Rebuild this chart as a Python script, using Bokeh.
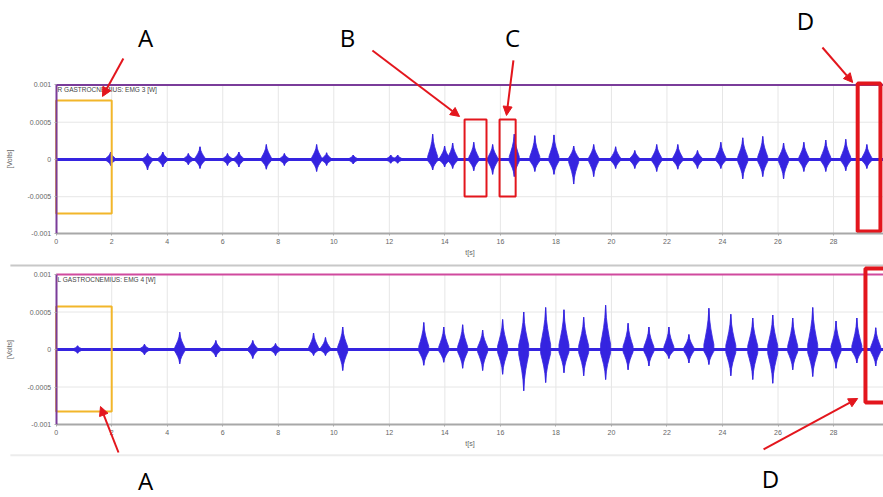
from bokeh.plotting import figure
from bokeh.models import (Range1d, FixedTicker, CustomJSTickFormatter, Label, Arrow,
                          NormalHead)
from bokeh.layouts import column
from bokeh.embed import file_html
from bokeh.resources import INLINE

# ---------------- data ----------------
x_ticks = [0, 2, 4, 6, 8, 10, 12, 14, 16, 18, 20, 22, 24, 26, 28]
y_ticks = [-0.001, -0.0005, 0, 0.0005, 0.001]
y_grid = [-0.0005, 0.0005]
t_end = 29.8

# R GASTROCNEMIUS burst centres [s], positive / negative peak amplitude [x1e-4 V]
t_right = [1.96, 3.29, 3.84, 4.76, 5.18, 6.17, 6.58, 7.57, 8.22, 9.38, 9.74, 10.7,
           12.05, 12.3, 13.56, 13.99, 14.28, 15.04, 15.72, 16.5, 17.24, 17.93, 18.64,
           19.36, 20.15, 20.84, 21.63, 22.39, 23.1, 23.94, 24.73, 25.45, 26.2, 26.93,
           27.72, 28.44, 29.2]
up_right = [1.0, 0.8, 1.0, 0.8, 1.7, 0.8, 1.0, 2.0, 0.8, 2.0, 0.9, 0.6, 0.6, 0.6, 3.4,
            1.8, 2.2, 2.3, 2.0, 3.4, 3.2, 3.3, 1.8, 2.0, 1.7, 1.2, 2.0, 2.0, 1.2, 2.3,
            2.9, 3.1, 2.2, 2.3, 2.6, 2.7, 2.0]
dn_right = [0.8, 1.4, 1.0, 0.7, 1.2, 0.8, 1.0, 1.3, 0.8, 1.6, 0.8, 0.6, 0.5, 0.5, 1.4,
            1.0, 1.2, 1.5, 2.0, 2.3, 1.6, 2.0, 3.3, 2.3, 1.2, 1.2, 1.6, 1.3, 1.2, 1.2,
            2.6, 2.3, 2.6, 1.6, 1.6, 1.5, 1.2]

# L GASTROCNEMIUS
t_left = [0.77, 3.18, 4.45, 5.75, 7.08, 7.9, 9.27, 9.7, 10.32, 13.24, 13.96, 14.64,
          15.36, 16.08, 16.84, 17.63, 18.29, 19.0, 19.79, 20.6, 21.35, 22.07, 22.79,
          23.51, 24.3, 25.09, 25.81, 26.53, 27.25, 28.09, 28.84, 29.52]
up_left = [0.5, 0.7, 2.3, 1.2, 1.2, 0.8, 2.2, 1.6, 3.0, 3.6, 3.0, 3.3, 2.6, 4.0, 5.0,
           5.6, 5.3, 4.3, 5.9, 3.5, 3.0, 3.0, 2.0, 5.5, 4.7, 4.2, 4.6, 4.2, 5.6, 3.8,
           4.2, 2.9]
dn_left = [0.5, 0.7, 1.9, 1.0, 1.2, 0.8, 0.8, 0.8, 2.8, 2.1, 1.7, 2.5, 2.8, 3.3, 5.5,
           4.4, 3.1, 3.5, 4.0, 2.7, 2.2, 1.2, 1.8, 2.0, 3.5, 4.0, 4.5, 2.7, 3.6, 2.5,
           1.8, 2.2]

# ---------------- styles ----------------
BLUE = "#3524e0"
RED = "#e3161d"
YELLOW = "#f2b62a"
PURPLE = "#7a3c9a"
PINK = "#d04a9e"
GREY_TXT = "#666666"
FONT = "Liberation Sans"

SHAPE_X = [-0.5, -0.35, -0.2, -0.08, 0.0, 0.08, 0.2, 0.35, 0.5]
SHAPE_Y = [0.12, 0.3, 0.5, 0.72, 1.0, 0.72, 0.5, 0.3, 0.12]
BURST_W = 0.36


def panel(height, x_rng, y_rng, title, title_y, top_color, t, up, dn):
    p = figure(width=883, height=height, x_range=Range1d(*x_rng),
               y_range=Range1d(*y_rng), output_backend="svg",
               toolbar_location=None, tools="")
    p.min_border = 0
    p.min_border_left = 0
    p.min_border_right = 0
    p.min_border_top = 0
    p.min_border_bottom = 0
    p.outline_line_color = None
    p.background_fill_color = "white"
    p.border_fill_color = "white"
    p.xgrid.visible = False
    p.ygrid.visible = False

    # grid drawn only inside the plotting area
    p.segment(x0=x_ticks[1:], y0=[y_ticks[0]] * (len(x_ticks) - 1), x1=x_ticks[1:],
              y1=[y_ticks[-1]] * (len(x_ticks) - 1), line_color="#e6e6e6", line_width=1)
    p.segment(x0=[0] * len(y_grid), y0=y_grid, x1=[t_end] * len(y_grid), y1=y_grid,
              line_color="#e6e6e6", line_width=1)

    p.xaxis.ticker = FixedTicker(ticks=x_ticks)
    p.yaxis.ticker = FixedTicker(ticks=y_ticks)
    p.yaxis.formatter = CustomJSTickFormatter(code="return String(tick);")
    p.xaxis.fixed_location = y_ticks[0]
    p.yaxis.fixed_location = 0
    p.xaxis.bounds = (0, t_end)
    p.yaxis.bounds = (y_ticks[0], y_ticks[-1])
    for ax in (p.xaxis, p.yaxis):
        ax.major_label_text_font_size = "7px"
        ax.major_label_text_color = GREY_TXT
        ax.major_label_text_font = FONT
        ax.axis_label_text_font_size = "7px"
        ax.axis_label_text_color = GREY_TXT
        ax.axis_label_text_font = FONT
        ax.axis_label_text_font_style = "normal"
        ax.minor_tick_line_color = None
        ax.major_tick_line_color = "#aaaaaa"
        ax.major_tick_out = 2
        ax.major_tick_in = 0
        ax.major_label_standoff = 3
        ax.axis_label_standoff = 2
    p.xaxis.axis_label = "t[s]"
    p.yaxis.axis_label = "[Volts]"
    p.yaxis.axis_line_color = PURPLE
    p.yaxis.axis_line_width = 2
    p.xaxis.axis_line_color = "#a8a8a8"
    p.xaxis.axis_line_width = 2
    p.yaxis.axis_label_standoff = 12

    p.segment(x0=[0], y0=[y_ticks[-1]], x1=[t_end], y1=[y_ticks[-1]],
              line_color=top_color, line_width=2)

    # baseline of the signal
    p.segment(x0=[0], y0=[0], x1=[t_end], y1=[0], line_color=BLUE, line_width=3)
    # bursts
    xs, ys = [], []
    for tc, u, d in zip(t, up, dn):
        bx = [tc + BURST_W * k for k in SHAPE_X]
        by = [u * 1e-4 * k for k in SHAPE_Y]
        bx2 = list(reversed(bx))
        by2 = [-d * 1e-4 * k for k in reversed(SHAPE_Y)]
        xs.append(bx + bx2)
        ys.append(by + by2)
    p.patches(xs=xs, ys=ys, fill_color=BLUE, line_color=BLUE, line_width=0.8)
    p.segment(x0=t, y0=[-d * 1e-4 for d in dn], x1=t, y1=[u * 1e-4 for u in up],
              line_color=BLUE, line_width=1.2)

    p.add_layout(Label(x=0.05, y=title_y, text=title, text_font_size="6.5px",
                       text_color="#444444", text_font=FONT, text_baseline="middle"))
    return p


def arrow(p, x0, y0, x1, y1, head=True, color=RED, width=2):
    p.add_layout(Arrow(end=NormalHead(size=9, fill_color=color, line_color=color) if head else None,
                       x_start=x0, y_start=y0, x_end=x1, y_end=y1,
                       line_color=color, line_width=width))


def letter(p, x, y, s):
    p.add_layout(Label(x=x, y=y, text=s, text_font_size="24px", text_font="Open Sans",
                       text_color="black", text_align="center", text_baseline="middle"))


top = panel(262, (-2.006, 29.8), (-0.001383, 0.002134), "R GASTROCNEMIUS: EMG 3 [W]",
            0.00094, PURPLE, t_right, up_right, dn_right)
bot = panel(235, (-2.006, 29.8), (-0.001973, 0.00116), "L GASTROCNEMIUS: EMG 4 [W]",
            0.000933, PINK, t_left, up_left, dn_left)

# ---- annotations, top panel ----
top.quad(left=[0], right=[2], bottom=[-0.000725], top=[0.000792], fill_color=None,
         line_color=YELLOW, line_width=2)
top.quad(left=[14.71, 15.97], right=[15.5, 16.55], bottom=[-0.000497, -0.000497],
         top=[0.000537, 0.000537], fill_color=None, line_color=RED, line_width=2)
top.quad(left=[28.87], right=[29.69], bottom=[-0.000966], top=[0.00102], fill_color=None,
         line_color=RED, line_width=4)
letter(top, 3.217, 0.001638, "A")
letter(top, 10.49, 0.001638, "B")
letter(top, 16.44, 0.001638, "C")
letter(top, 26.99, 0.001866, "D")
arrow(top, 2.42, 0.001356, 1.668, 0.000846)
arrow(top, 11.39, 0.001463, 14.53, 0.000577)
arrow(top, 16.47, 0.001329, 16.22, 0.000591)
arrow(top, 27.6, 0.001503, 28.69, 0.001034)

# ---- annotations, bottom panel ----
bot.segment(x0=[-1.65], y0=[0.00112], x1=[t_end], y1=[0.00112], line_color="#c8c8c8",
            line_width=2)
bot.segment(x0=[-1.65], y0=[-0.00141], x1=[t_end], y1=[-0.00141], line_color="#ececec",
            line_width=2)
bot.quad(left=[0], right=[2], bottom=[-0.000827], top=[0.000573], fill_color=None,
         line_color=YELLOW, line_width=2)
bot.quad(left=[29.15], right=[30.3], bottom=[-0.000707], top=[0.00108], fill_color=None,
         line_color=RED, line_width=4)
letter(bot, 3.217, -0.001747, "A")
letter(bot, 25.73, -0.00172, "D")
arrow(bot, 2.244, -0.001373, 1.596, -0.00076)
arrow(bot, 25.48, -0.001333, 28.87, -0.000653)

layout = column(top, bot, spacing=0)
open("out.html", "w").write(file_html(layout, INLINE))
